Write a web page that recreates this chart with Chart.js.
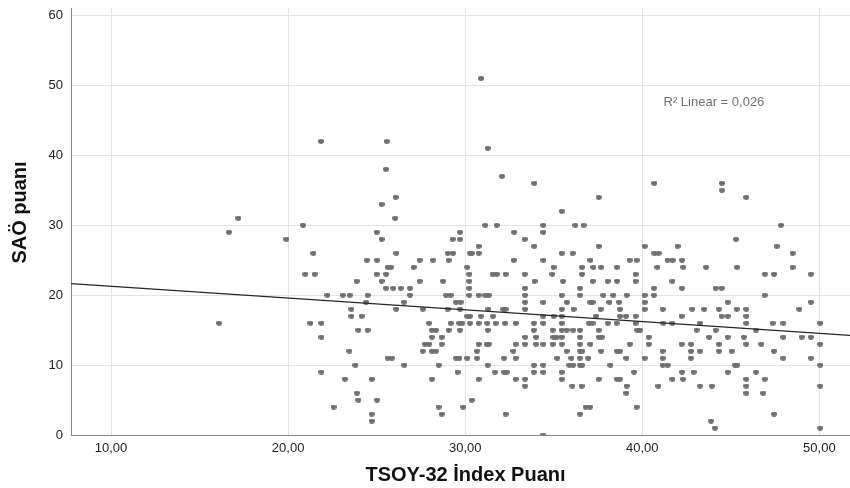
<!DOCTYPE html>
<html>
<head>
<meta charset="utf-8">
<script src="https://cdn.jsdelivr.net/npm/chart.js@4.4.1/dist/chart.umd.min.js"></script>
<style>
  html, body { margin: 0; padding: 0; background: #fff; }
  #wrap { width: 850px; height: 488px; }
</style>
</head>
<body>
<div id="wrap"><canvas id="scatterChart"></canvas></div>
<script>
// SAÖ puanı (y) levels, and the TSOY-32 index values (x) of the cases at each level
const saoLevels = [51, 42, 41, 38, 37, 36, 35, 34, 33, 32, 31, 30, 29, 28, 27, 26, 25, 24, 23, 22, 21, 20,
                   19, 18, 17, 16, 15, 14, 13, 12, 11, 10, 9, 8, 7, 6, 5, 4, 3, 2, 1, 0];
const tsoyAtLevel = [
    [30.89],
    [21.86, 25.57],
    [31.27],
    [25.53],
    [32.08],
    [33.9, 40.68, 44.5],
    [44.5],
    [26.07, 37.54, 45.87],
    [25.28],
    [35.45],
    [17.19, 26.05],
    [20.84, 31.14, 31.78, 34.41, 36.22, 36.69, 47.83],
    [16.66, 25.0, 29.71, 32.77, 34.41],
    [19.9, 25.28, 29.29, 29.71, 33.36, 45.29],
    [30.76, 33.9, 37.54, 40.13, 41.99, 47.59],
    [21.42, 26.11, 29.01, 29.31, 30.27, 30.38, 30.76, 35.45, 36.07, 40.68, 40.92, 48.49],
    [24.45, 25.02, 27.43, 28.18, 29.07, 32.74, 34.41, 37.07, 39.29, 39.68, 41.43, 41.71, 42.24],
    [25.62, 25.81, 27.09, 30.12, 34.99, 36.6, 37.24, 37.67, 38.57, 40.85, 42.32, 43.6, 45.35, 48.49],
    [20.97, 21.5, 25.0, 25.53, 30.23, 31.55, 31.78, 32.28, 33.36, 34.92, 36.6, 39.62, 46.93, 47.44, 49.52],
    [23.87, 25.28, 27.43, 28.75, 30.23, 33.92, 35.52, 37.2, 38.04, 38.57, 39.62, 41.7],
    [25.53, 25.94, 26.36, 26.88, 30.23, 33.38, 36.48, 40.66, 42.24, 44.14, 44.48],
    [22.22, 23.08, 23.48, 24.49, 26.88, 28.92, 29.18, 30.23, 30.76, 31.14, 31.33, 33.38, 35.45, 36.48, 37.8,
     38.36, 39.12, 40.13, 40.66, 46.91],
    [24.4, 26.54, 29.48, 29.74, 33.38, 34.41, 35.75, 37.07, 37.2, 38.14, 38.68, 40.13, 44.82, 49.52],
    [23.57, 26.11, 27.6, 29.01, 29.71, 31.31, 32.15, 32.28, 33.38, 35.45, 36.12, 37.65, 38.74, 40.13, 41.15,
     42.82, 43.5, 44.33, 45.33, 45.87, 48.87],
    [23.57, 24.15, 30.12, 30.27, 30.89, 31.57, 34.41, 34.99, 35.45, 37.39, 38.74, 39.08, 39.62, 42.22, 44.48,
     44.82, 45.87],
    [16.1, 21.26, 21.88, 27.96, 29.18, 29.67, 29.84, 30.27, 30.76, 31.25, 31.72, 32.25, 32.85, 33.88, 34.41,
     35.45, 36.99, 37.2, 38.06, 38.55, 39.62, 41.19, 41.7, 43.26, 45.87, 47.36, 47.96, 50.05],
    [23.97, 24.49, 28.12, 28.35, 29.07, 29.71, 31.27, 33.88, 34.94, 35.45, 35.73, 36.1, 36.48, 37.54, 39.72,
     39.87, 43.07, 44.14, 46.42],
    [21.88, 28.12, 28.67, 33.38, 34.0, 34.98, 35.17, 35.45, 36.48, 37.54, 37.72, 40.36, 43.78, 44.82, 45.74,
     47.96, 49.0, 49.52],
    [27.73, 27.96, 28.67, 30.76, 31.21, 31.33, 32.85, 33.38, 34.0, 34.41, 34.94, 35.45, 36.48, 37.07, 39.29,
     40.36, 42.22, 42.75, 44.33, 45.87, 46.72, 50.05],
    [23.46, 27.6, 28.12, 28.35, 30.67, 32.72, 35.73, 36.48, 36.61, 37.67, 38.57, 38.74, 41.15, 42.75, 43.26,
     44.33, 45.05, 47.44],
    [25.62, 25.87, 29.48, 29.67, 30.12, 30.67, 32.19, 32.85, 35.2, 36.0, 36.48, 36.95, 39.1, 40.13, 41.15,
     42.75, 47.96, 49.52],
    [23.8, 26.56, 28.5, 31.27, 33.88, 34.41, 35.88, 36.1, 36.48, 36.61, 38.2, 41.15, 41.43, 45.23, 45.37, 50.05],
    [21.88, 29.57, 31.68, 32.19, 32.34, 33.88, 34.41, 35.45, 39.53, 42.24, 42.9, 44.82, 46.42],
    [23.21, 24.72, 28.12, 30.76, 32.85, 33.38, 35.45, 37.54, 38.57, 38.74, 41.7, 42.3, 45.87, 46.91],
    [33.38, 36.05, 36.58, 39.12, 40.9, 43.26, 43.93, 45.87, 50.05],
    [23.89, 39.1, 45.87, 46.83],
    [23.97, 25.02, 30.37],
    [22.57, 28.5, 29.89, 36.8, 37.05, 39.68],
    [24.72, 28.67, 32.28, 36.48, 47.44],
    [24.72, 43.88],
    [44.1, 50.05],
    [34.41]
];

// linear fit line as drawn (end points read at the plot edges)
const fitLineX = [7.74, 51.73];
const fitLineY = [21.64, 14.26];
const fitNote = "R² Linear = 0,026";
const fitNoteAt = [41.2, 47.5];

const xTicks = [10, 20, 30, 40, 50];
const yTicks = [0, 10, 20, 30, 40, 50, 60];
const xTitle = "TSOY-32 İndex Puanı";
const yTitle = "SAÖ puanı";

const points = [];
saoLevels.forEach((y, i) => tsoyAtLevel[i].forEach(x => points.push({ x, y })));

// small flat ellipse like the SPSS markers
function makeDot() {
    const c = document.createElement("canvas");
    c.width = 6; c.height = 5;
    const g = c.getContext("2d");
    g.fillStyle = "#6f6f6f";
    g.beginPath();
    g.ellipse(3, 2.5, 3, 2.4, 0, 0, Math.PI * 2);
    g.fill();
    return c;
}

const labelsPlugin = {
    id: "labels",
    afterDraw(chart) {
        const ctx = chart.ctx;
        const a = chart.chartArea;
        const xs = chart.scales.x, ys = chart.scales.y;
        ctx.save();
        ctx.fillStyle = "#111";
        ctx.font = "bold 20px 'Liberation Sans', Arial, sans-serif";
        ctx.textAlign = "center";
        ctx.textBaseline = "middle";
        ctx.fillText(xTitle, (a.left + a.right) / 2 + 5, 475);
        ctx.translate(20, (a.top + a.bottom) / 2 - 9);
        ctx.rotate(-Math.PI / 2);
        ctx.fillText(yTitle, 0, 0);
        ctx.restore();

        ctx.save();
        ctx.fillStyle = "#707070";
        ctx.font = "13px 'Liberation Sans', Arial, sans-serif";
        ctx.textAlign = "left";
        ctx.textBaseline = "middle";
        ctx.fillText(fitNote, xs.getPixelForValue(fitNoteAt[0]), ys.getPixelForValue(fitNoteAt[1]));
        ctx.restore();
    }
};

Chart.defaults.font.family = "'Liberation Sans', Arial, sans-serif";
Chart.defaults.animation = false;

const ctx = document.getElementById("scatterChart").getContext("2d");
new Chart(ctx, {
    type: "scatter",
    data: {
        datasets: [
            {
                type: "line",
                data: fitLineX.map((x, i) => ({ x, y: fitLineY[i] })),
                borderColor: "#262626",
                borderWidth: 1.2,
                pointRadius: 0,
                fill: false,
                order: 0
            },
            {
                data: points,
                pointStyle: makeDot(),
                pointRadius: 3,
                backgroundColor: "#6f6f6f",
                order: 1
            }
        ]
    },
    options: {
        responsive: true,
        maintainAspectRatio: false,
        layout: { autoPadding: false, padding: { top: 8, right: 0, left: 0, bottom: 0 } },
        plugins: {
            legend: { display: false },
            tooltip: { enabled: false }
        },
        scales: {
            x: {
                type: "linear",
                min: 7.74,
                max: 51.73,
                afterBuildTicks: s => { s.ticks = xTicks.map(v => ({ value: v })); },
                afterFit: s => { s.height = 53; s.paddingLeft = 0; s.paddingRight = 0; },
                ticks: {
                    color: "#222",
                    font: { size: 13 },
                    padding: 6,
                    maxRotation: 0,
                    callback: v => v.toFixed(2).replace(".", ",")
                },
                grid: { color: "#e4e4e4", drawTicks: false },
                border: { color: "#888", width: 1 }
            },
            y: {
                type: "linear",
                min: 0,
                max: 61.07,
                afterBuildTicks: s => { s.ticks = yTicks.map(v => ({ value: v })); },
                afterFit: s => { s.width = 71; s.paddingTop = 0; s.paddingBottom = 0; },
                ticks: {
                    color: "#222",
                    font: { size: 13 },
                    padding: 8,
                    callback: v => String(v)
                },
                grid: { color: "#e4e4e4", drawTicks: false },
                border: { color: "#888", width: 1 }
            }
        }
    },
    plugins: [labelsPlugin]
});
</script>
</body>
</html>
